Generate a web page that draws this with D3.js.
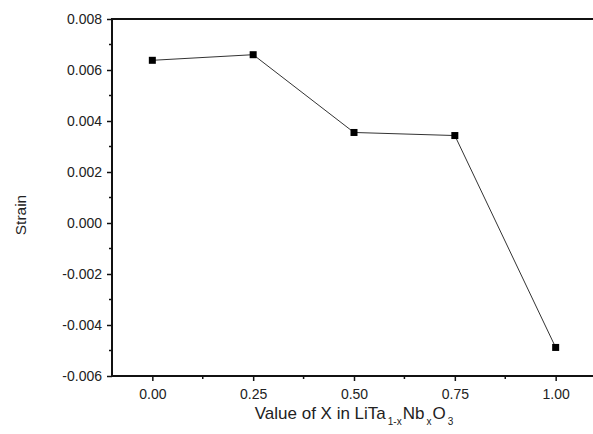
<!DOCTYPE html>
<html>
<head>
<meta charset="utf-8">
<script src="https://cdn.jsdelivr.net/npm/d3@7"></script>
<style>
  body { margin: 0; background: #fff; }
  text { font-family: "Liberation Sans", Arial, sans-serif; fill: #222; }
</style>
</head>
<body>
<script>
var xValues = [0.00, 0.25, 0.50, 0.75, 1.00];
var strain = [0.00638, 0.0066, 0.00355, 0.00343, -0.00488];
var xTicks = [0, 0.25, 0.5, 0.75, 1.0];
var yTicks = [-0.006, -0.004, -0.002, 0, 0.002, 0.004, 0.006, 0.008];

var width = 593, height = 434;
var svg = d3.select('body').append('svg').attr('width', width).attr('height', height);

var x = d3.scaleLinear().domain([-0.1, 1.1]).range([112, 596]);
var y = d3.scaleLinear().domain([-0.006, 0.008]).range([376, 19]);

// top border
svg.append('line')
   .attr('x1', x(-0.1)).attr('x2', width)
   .attr('y1', y(0.008)).attr('y2', y(0.008))
   .attr('stroke', '#111').attr('stroke-width', 2);

// minor ticks
var yMinor = d3.range(-0.005, 0.008, 0.002);
svg.append('g').selectAll('line').data(yMinor).enter().append('line')
   .attr('x1', x(-0.1)).attr('x2', x(-0.1) - 3)
   .attr('y1', function (d) { return y(d); }).attr('y2', function (d) { return y(d); })
   .attr('stroke', '#111').attr('stroke-width', 1.5);
var xMinor = [0.125, 0.375, 0.625, 0.875];
svg.append('g').selectAll('line').data(xMinor).enter().append('line')
   .attr('y1', y(-0.006)).attr('y2', y(-0.006) + 3)
   .attr('x1', function (d) { return x(d); }).attr('x2', function (d) { return x(d); })
   .attr('stroke', '#111').attr('stroke-width', 1.5);

var yAxis = svg.append('g')
   .attr('transform', 'translate(' + x(-0.1) + ',0)')
   .call(d3.axisLeft(y).tickValues(yTicks).tickSize(5).tickPadding(5).tickFormat(d3.format('.3f')));
yAxis.select('.domain').attr('stroke', '#111').attr('stroke-width', 2)
   .attr('d', 'M0,' + (y(0.008) - 1) + 'V' + (y(-0.006) + 1));
yAxis.selectAll('.tick line').attr('stroke', '#111').attr('stroke-width', 1.5);
yAxis.selectAll('.tick text').attr('font-size', 14).attr('font-family', '"Liberation Sans", Arial, sans-serif').attr('fill', '#222')
   .text(function (d) { return d3.format('.3f')(d).replace('−', '-'); });

var xAxis = svg.append('g')
   .attr('transform', 'translate(0,' + y(-0.006) + ')')
   .call(d3.axisBottom(x).tickValues(xTicks).tickSize(5).tickPadding(8).tickFormat(d3.format('.2f')));
xAxis.select('.domain').attr('stroke', '#111').attr('stroke-width', 2)
   .attr('d', 'M' + (x(-0.1) - 1) + ',0H' + width);
xAxis.selectAll('.tick line').attr('stroke', '#111').attr('stroke-width', 1.5);
xAxis.selectAll('.tick text').attr('font-size', 14).attr('font-family', '"Liberation Sans", Arial, sans-serif').attr('fill', '#222');

// data line
var line = d3.line()
   .x(function (d, i) { return x(xValues[i]); })
   .y(function (d) { return y(d); });
svg.append('path').datum(strain)
   .attr('d', line)
   .attr('fill', 'none').attr('stroke', '#333').attr('stroke-width', 1);

svg.append('g').selectAll('rect').data(strain).enter().append('rect')
   .attr('x', function (d, i) { return x(xValues[i]) - 3.5; })
   .attr('y', function (d) { return y(d) - 3.5; })
   .attr('width', 7).attr('height', 7)
   .attr('fill', '#000');

// axis titles
svg.append('text')
   .attr('transform', 'translate(26,' + 215 + ') rotate(-90)')
   .attr('text-anchor', 'middle').attr('font-size', 15.5)
   .text('Strain');

var xt = svg.append('text')
   .attr('x', 354).attr('y', 419)
   .attr('text-anchor', 'middle').attr('font-size', 17);
xt.append('tspan').text('Value of X in LiTa');
xt.append('tspan').attr('font-size', 10).attr('dx', 2).attr('dy', 6).text('1-x');
xt.append('tspan').attr('dx', 1).attr('dy', -6).text('Nb');
xt.append('tspan').attr('font-size', 10).attr('dx', 2).attr('dy', 6).text('x');
xt.append('tspan').attr('dx', 1).attr('dy', -6).text('O');
xt.append('tspan').attr('font-size', 10).attr('dx', 2).attr('dy', 6).text('3');
</script>
</body>
</html>
